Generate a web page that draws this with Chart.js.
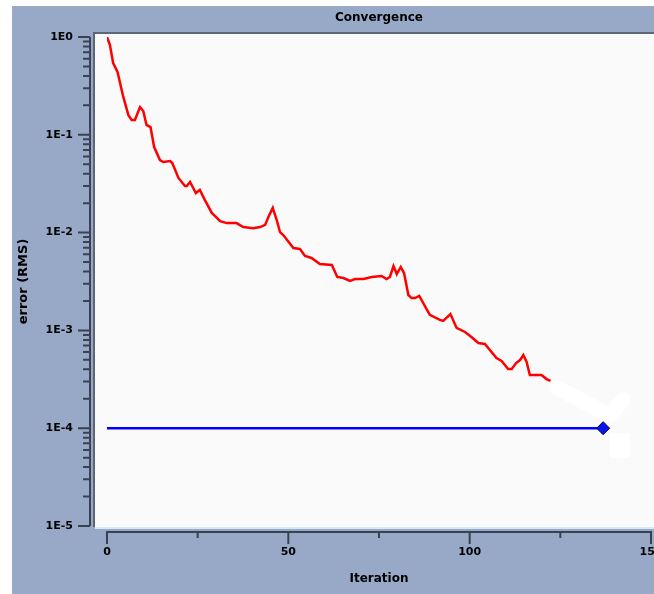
<!DOCTYPE html>
<html>
<head>
<meta charset="utf-8">
<script src="https://cdn.jsdelivr.net/npm/chart.js@4/dist/chart.umd.min.js"></script>
<style>
  body { margin: 0; background: #ffffff; }
  canvas { display: block; }
</style>
</head>
<body>
<canvas id="conv" width="654" height="594"></canvas>
<script>
// residual history
const iterations = [0, 0.8, 1.7, 2.9, 4.5, 5.9, 6.8, 7.7, 9.1, 10, 10.9, 12, 13, 14.6, 15.5, 17.4, 18, 19.7, 21.5, 22,
    22.9, 24.5, 25.6, 27, 28.9, 31.2, 33, 35.7, 37.6, 40.3, 42.2, 43.6, 44.5, 45.7, 46.8, 47.7, 48.6, 51.4, 53.2, 54.6,
    56.4, 58.7, 62, 63.5, 65.2, 67, 68.4, 70.7, 73, 75.7, 77.1, 78, 79, 79.9, 81, 81.9, 83.1, 84, 84.9, 86.1,
    89, 91.8, 92.7, 94.7, 96.4, 98.7, 100.5, 102.4, 104.2, 107.4, 108.8, 110.6, 111.6, 112.8, 113.9, 114.8, 115.7, 116.6, 118.5, 119.8,
    121.2, 122.3];
const rmsError = [1.0, 0.83, 0.54, 0.44, 0.244, 0.159, 0.142, 0.142, 0.192, 0.175, 0.126, 0.120, 0.075, 0.0552, 0.0527, 0.054, 0.0515, 0.0362, 0.0299, 0.0299,
    0.0329, 0.0254, 0.0273, 0.0215, 0.0159, 0.0131, 0.0125, 0.0125, 0.0114, 0.0111, 0.0114, 0.0120, 0.01445, 0.0179, 0.01345, 0.0101, 0.00945, 0.00696, 0.0068, 0.00577,
    0.0055, 0.00477, 0.00466, 0.00352, 0.00343, 0.0032, 0.00335, 0.00335, 0.00352, 0.0036, 0.00335, 0.00352, 0.00455, 0.00377, 0.00445, 0.00386, 0.0023, 0.00214, 0.00214, 0.00225,
    0.00144, 0.00128, 0.00125, 0.00147, 0.00106, 0.000964, 0.000857, 0.000743, 0.000726, 0.000522, 0.000487, 0.000403, 0.000403, 0.000464, 0.000498, 0.00056, 0.000475, 0.00035, 0.00035, 0.00035,
    0.000318, 0.000304];

// convergence target
const targetIter = [0, 136.8];
const targetError = [1e-4, 1e-4];

// white marks drawn over the plot
const markIter = [124, 138.5, 142.3];
const markError = [2.6e-4, 1.36e-4, 1.94e-4];
const blockIter = [141.4, 141.4];
const blockError = [8.9e-5, 5.0e-5];

const xMajor = [0, 50, 100, 150];
const xMinor = [25, 75, 125];
const yExponents = [-5, -4, -3, -2, -1, 0];

const BG = '#98a9c8';
const FONT = '"DejaVu Sans", sans-serif';

const toPoints = (xs, ys) => xs.map((x, i) => ({ x: x, y: ys[i] }));

const framePlugin = {
    id: 'frame',
    beforeDraw(chart) {
        const { ctx, chartArea: a, width, height } = chart;
        ctx.save();
        ctx.fillStyle = '#ffffff';
        ctx.fillRect(0, 0, width, height);
        ctx.fillStyle = BG;
        ctx.fillRect(12, 6, width - 12, height - 6);
        // plot box
        const left = a.left - 13, top = a.top - 3, bottom = a.bottom + 1;
        ctx.fillStyle = '#fafafa';
        ctx.fillRect(left, top, width - left, bottom - top);
        ctx.fillStyle = '#5d6676';
        ctx.fillRect(left - 1, top - 2, width - left + 1, 2);
        ctx.fillRect(left - 1, top - 2, 2, bottom - top + 2);
        ctx.fillStyle = '#d4ecf8';
        ctx.fillRect(left + 1, bottom, width - left, 2);
        ctx.restore();
    },
    afterDraw(chart) {
        const { ctx, chartArea: a } = chart;
        const xs = chart.scales.x, ys = chart.scales.y;
        ctx.save();
        ctx.strokeStyle = '#3a4252';
        ctx.lineWidth = 2;
        ctx.beginPath();
        // y axis, set off to the left of the plot box
        const ax = a.left - 17;
        ctx.moveTo(ax, ys.getPixelForValue(1));
        ctx.lineTo(ax, ys.getPixelForValue(1e-5));
        yExponents.forEach(e => {
            const py = ys.getPixelForValue(Math.pow(10, e));
            ctx.moveTo(ax, py);
            ctx.lineTo(ax - 12, py);
            if (e < 0) {
                for (let m = 2; m <= 9; m++) {
                    const pm = ys.getPixelForValue(m * Math.pow(10, e));
                    ctx.moveTo(ax, pm);
                    ctx.lineTo(ax - 7, pm);
                }
            }
        });
        // x axis, set off below the plot box
        const ay = a.bottom + 6;
        ctx.moveTo(xs.getPixelForValue(0) - 1, ay);
        ctx.lineTo(xs.getPixelForValue(150) + 1, ay);
        xMajor.forEach(v => {
            const px = xs.getPixelForValue(v);
            ctx.moveTo(px, ay);
            ctx.lineTo(px, ay + 12);
        });
        xMinor.forEach(v => {
            const px = xs.getPixelForValue(v);
            ctx.moveTo(px, ay);
            ctx.lineTo(px, ay + 6);
        });
        ctx.stroke();
        ctx.restore();
    }
};

new Chart(document.getElementById('conv'), {
    type: 'line',
    data: {
        datasets: [
            {
                label: 'error',
                data: toPoints(iterations, rmsError),
                borderColor: '#ff0000',
                borderWidth: 2.5,
                pointRadius: 0,
                tension: 0
            },
            {
                label: 'target',
                data: toPoints(targetIter, targetError),
                borderColor: '#0000ff',
                borderWidth: 2.5,
                pointRadius: [0, 6.5],
                pointStyle: 'rectRot',
                pointBackgroundColor: '#0a16e8',
                pointBorderColor: '#00005a',
                pointBorderWidth: 1
            },
            {
                label: 'mark',
                data: toPoints(markIter, markError),
                borderColor: '#ffffff',
                borderWidth: 15,
                borderCapStyle: 'round',
                borderJoinStyle: 'round',
                pointRadius: 0
            },
            {
                label: 'block',
                data: toPoints(blockIter, blockError),
                borderColor: '#ffffff',
                borderWidth: 20,
                borderCapStyle: 'butt',
                pointRadius: 0
            }
        ]
    },
    options: {
        responsive: false,
        animation: false,
        layout: { autoPadding: false, padding: { left: 0, right: 3, top: 0, bottom: 0 } },
        plugins: {
            legend: { display: false },
            tooltip: { enabled: false },
            title: {
                display: true,
                fullSize: false,
                text: 'Convergence',
                color: '#000000',
                font: { family: FONT, size: 12, weight: 'bold' },
                padding: { top: 10.5, bottom: 12.1 }
            }
        },
        scales: {
            x: {
                type: 'linear',
                min: 0,
                max: 150,
                grid: { display: false, drawTicks: false },
                border: { display: false },
                ticks: {
                    stepSize: 50,
                    padding: 20,
                    color: '#000000',
                    font: { family: FONT, size: 11, weight: 'bold' }
                },
                title: {
                    display: true,
                    text: 'Iteration',
                    color: '#000000',
                    font: { family: FONT, size: 12, weight: 'bold' },
                    padding: { top: 0, bottom: 8 }
                },
                afterFit(scale) {
                    scale.height = 68;
                    scale.paddingLeft = 0;
                    scale.paddingRight = 0;
                }
            },
            y: {
                type: 'logarithmic',
                min: 1e-5,
                max: 1,
                grid: { display: false, drawTicks: false },
                border: { display: false },
                afterBuildTicks(scale) {
                    scale.ticks = yExponents.map(e => ({ value: Math.pow(10, e) }));
                },
                ticks: {
                    padding: 34,
                    color: '#000000',
                    font: { family: FONT, size: 11, weight: 'bold' },
                    callback: (value) => '1E' + Math.round(Math.log10(value))
                },
                title: {
                    display: true,
                    text: 'error (RMS)',
                    color: '#000000',
                    font: { family: FONT, size: 13, weight: 'bold' },
                    padding: { top: 16, bottom: 0 }
                },
                afterFit(scale) {
                    scale.width = 107;
                    scale.paddingTop = 0;
                    scale.paddingBottom = 0;
                }
            }
        }
    },
    plugins: [framePlugin]
});
</script>
</body>
</html>
